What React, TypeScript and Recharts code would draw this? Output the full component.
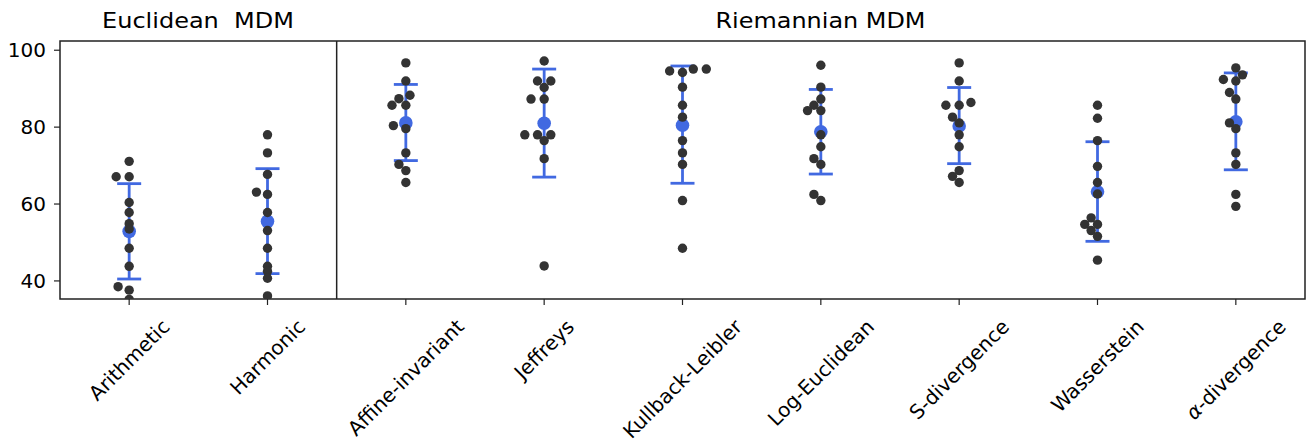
import React from 'react';
import { ScatterChart, Scatter, XAxis, YAxis, ErrorBar, ReferenceLine, ReferenceArea } from 'recharts';

const categories = ['Arithmetic', 'Harmonic', 'Affine-invariant', 'Jeffreys', 'Kullback-Leibler', 'Log-Euclidean', 'S-divergence', 'Wasserstein', 'α-divergence'];

// accuracy per subject
const arithmetic = [71.1, 67.1, 67.1, 60.4, 57.8, 54.9, 53.5, 48.5, 43.8, 38.5, 37.6, 35.2];
const harmonic = [78.0, 73.3, 67.7, 63.1, 62.5, 57.8, 53.1, 48.5, 43.8, 42.5, 40.7, 36.1];
const affine = [96.7, 92.0, 88.3, 87.4, 85.7, 85.7, 80.4, 79.6, 73.3, 70.3, 68.7, 65.6];
const jeffreys = [97.2, 92.0, 92.0, 90.3, 87.3, 87.3, 78.0, 78.0, 78.0, 76.5, 71.8, 43.9];
const kullback = [95.1, 95.1, 94.6, 94.2, 90.4, 85.7, 82.6, 76.5, 73.3, 70.3, 60.9, 48.5];
const logEuclid = [96.1, 90.4, 87.3, 85.7, 84.3, 84.3, 78.0, 74.9, 71.8, 70.3, 62.5, 60.9];
const sDiv = [96.7, 92.0, 86.4, 85.7, 85.7, 82.6, 81.1, 78.0, 74.9, 68.7, 67.2, 65.6];
const wasserstein = [85.7, 82.3, 76.5, 69.8, 65.6, 62.6, 56.4, 54.7, 54.7, 53.1, 51.6, 45.4];
const alphaDiv = [95.4, 93.6, 92.4, 92.0, 89.0, 87.3, 81.1, 79.6, 73.3, 70.3, 62.5, 59.4];

// horizontal jitter of each dot, in category widths
const arithmeticJit = [0, -0.094, 0, 0, 0, 0, 0, 0, 0, -0.08, 0, 0];
const harmonicJit = [0, 0, 0, -0.08, 0, 0, 0, 0, 0, 0, 0, 0];
const affineJit = [0, 0, 0.03, -0.05, -0.1, 0, -0.09, 0, 0, -0.05, 0, 0];
const jeffreysJit = [0, -0.048, 0.048, 0, -0.095, 0, -0.14, -0.048, 0.048, 0, 0, 0];
const kullbackJit = [0.078, 0.172, -0.093, 0, 0, 0, 0, 0, 0, 0, 0, 0];
const logEuclidJit = [0, 0, 0, -0.05, -0.096, 0, 0, 0, -0.05, 0, -0.05, 0];
const sDivJit = [0, 0, 0.085, -0.096, 0, -0.048, 0, 0, 0, 0, -0.048, 0];
const wassersteinJit = [0, 0, 0, 0, 0, 0, -0.046, -0.092, 0, -0.046, 0, 0];
const alphaDivJit = [0, 0.048, -0.09, 0, -0.046, 0, -0.046, 0, 0, 0, 0, 0];

const means = [52.9, 55.5, 81.1, 81.0, 80.5, 78.8, 80.3, 63.2, 81.4];
const upper = [65.3, 69.2, 91.1, 95.1, 95.9, 89.8, 90.3, 76.2, 94.1];
const lower = [40.5, 41.9, 71.3, 67.0, 65.4, 67.8, 70.5, 50.3, 68.9];

const yTicks = [40, 60, 80, 100];
const Y_MIN = 35.3;
const Y_MAX = 102.4;

const scores = [arithmetic, harmonic, affine, jeffreys, kullback, logEuclid, sDiv, wasserstein, alphaDiv];
const jitters = [arithmeticJit, harmonicJit, affineJit, jeffreysJit, kullbackJit, logEuclidJit, sDivJit, wassersteinJit, alphaDivJit];

const points = scores.flatMap((vals, i) => vals.map((v, j) => ({ x: i + jitters[i][j], y: v })));
const meanRows = means.map((m, i) => ({ x: i, y: m, err: [m - lower[i], upper[i] - m] }));

const FONT = '"DejaVu Sans", sans-serif';
const FS = 20;
const BLUE = '#4169E1';
const DARK = '#333333';

let ctx: CanvasRenderingContext2D | null = null;
function textWidth(s: string) {
  if (!ctx) ctx = document.createElement('canvas').getContext('2d');
  if (!ctx) return s.length * FS * 0.6;
  ctx.font = `${FS}px "DejaVu Sans"`;
  return ctx.measureText(s).width;
}

function CatTick(props: any) {
  const { x, y, payload } = props;
  const label = categories[payload.value];
  const L = textWidth(label);
  const cx = x;
  const cy = y + 9 + (L + FS) * 0.3536;
  const isAlpha = label.startsWith('α');
  return (
    <text x={cx} y={cy} textAnchor="middle" dominantBaseline="central" fontSize={FS} fontFamily={FONT} fill="#000"
      transform={`rotate(-45 ${cx} ${cy})`}>
      {isAlpha ? (<><tspan fontStyle="italic">α</tspan>{label.slice(1)}</>) : label}
    </text>
  );
}

const dot = (r: number, fill: string) => (p: any) => <circle cx={p.cx} cy={p.cy} r={r} fill={fill} />;

export default function App() {
  return (
    <div style={{ position: 'absolute', left: 0, top: 0, width: 1311, height: 444, background: '#fff' }}>
      <ScatterChart width={1311} height={444} margin={{ top: 41, right: 6, bottom: 15, left: 0 }}>
        <XAxis dataKey="x" type="number" domain={[-0.5, 8.5]} ticks={[0, 1, 2, 3, 4, 5, 6, 7, 8]} interval={0}
          height={130} axisLine={false} tickSize={6} tickLine={{ stroke: '#222', strokeWidth: 1.2 }} tick={<CatTick />} />
        <YAxis dataKey="y" type="number" domain={[Y_MIN, Y_MAX]} allowDataOverflow ticks={yTicks} width={60}
          axisLine={false} tickSize={6} tickMargin={8} tickLine={{ stroke: '#222', strokeWidth: 1.2 }}
          tick={{ fontSize: FS, fontFamily: FONT, fill: '#000' }} />
        <ReferenceArea x1={-0.5} x2={8.5} y1={Y_MIN} y2={Y_MAX} fill="none" stroke="#222" strokeWidth={1.5} fillOpacity={0} />
        <ReferenceLine x={1.5} stroke="#222" strokeWidth={1.5} />
        <Scatter data={meanRows} isAnimationActive={false} shape={dot(6.8, BLUE)}>
          <ErrorBar dataKey="err" direction="y" width={12} stroke={BLUE} strokeWidth={2.8} />
        </Scatter>
        <Scatter data={points} isAnimationActive={false} shape={dot(4.7, DARK)} />
      </ScatterChart>
      <svg width={1311} height={40} style={{ position: 'absolute', left: 0, top: 0, pointerEvents: 'none' }}>
        <text x={198} y={28} textAnchor="middle" fontSize={21} fontFamily={FONT} fill="#000" xmlSpace="preserve"
          textLength={192} lengthAdjust="spacingAndGlyphs">Euclidean  MDM</text>
        <text x={820.5} y={28} textAnchor="middle" fontSize={21} fontFamily={FONT} fill="#000"
          textLength={210} lengthAdjust="spacingAndGlyphs">Riemannian MDM</text>
      </svg>
    </div>
  );
}
